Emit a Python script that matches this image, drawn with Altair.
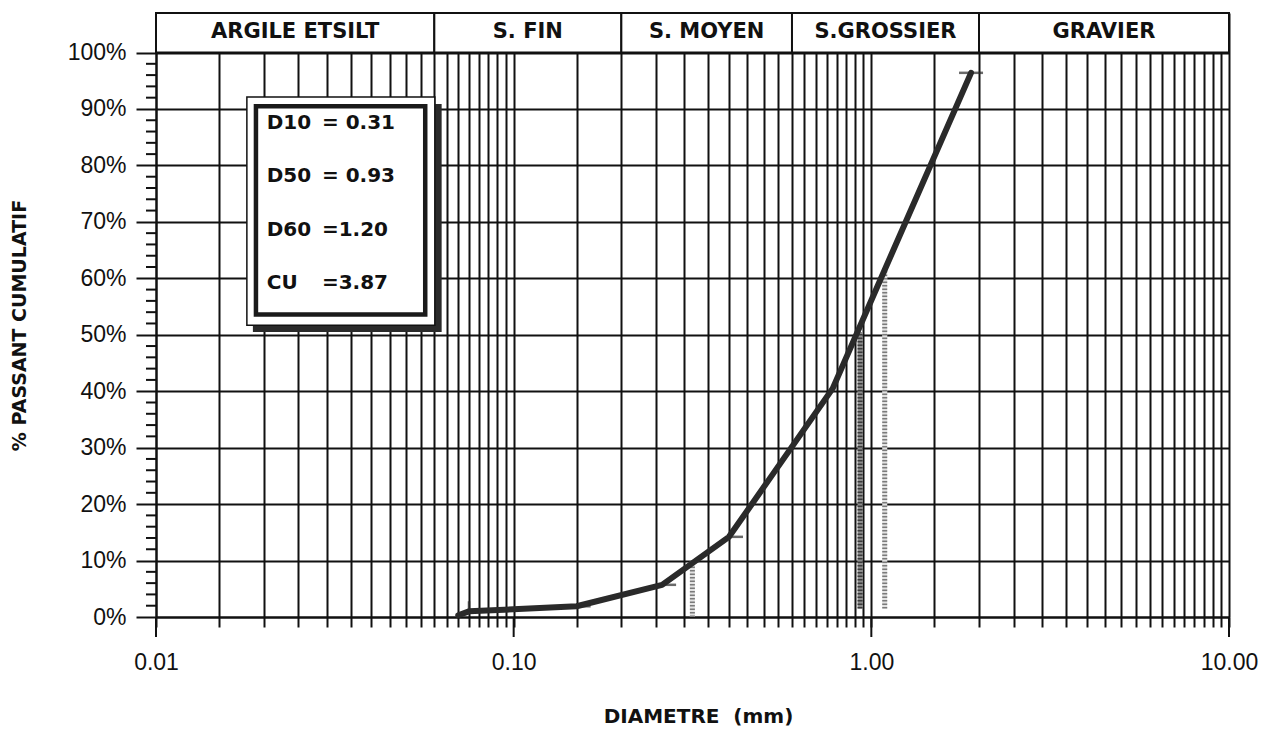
import altair as alt
import pandas as pd

# ---------------- data ----------------
diam_mm = [0.07, 0.075, 0.15, 0.26, 0.40, 0.78, 1.90]
pct_passing = [0.3, 1.0, 1.9, 5.7, 14.2, 40.5, 96.4]

mark_diam = [0.15, 0.26, 0.40]
mark_pct = [1.9, 5.7, 14.2]
top_mark_diam = [1.90]
top_mark_pct = [96.4]
start_mark_diam = [0.075]
start_mark_pct = [1.9]

d_names = ["D10", "D50", "D60"]
d_diam = [0.316, 0.93, 1.09]
d_from = [0.0, 1.5, 1.5]
d_to = [10.0, 50.5, 61.8]

stat_names = ["D10", "D50", "D60", "CU"]
stat_values = ["= 0.31", "= 0.93", "=1.20", "=3.87"]

class_names = ["ARGILE ETSILT", "S. FIN", "S. MOYEN", "S.GROSSIER", "GRAVIER"]
class_lo = [0.01, 0.06, 0.2, 0.6, 2.0]
class_hi = [0.06, 0.2, 0.6, 2.0, 10.0]

grid_multipliers = [1, 1.5, 2, 2.5, 3, 3.5, 4, 4.5, 5, 5.5, 6, 6.5, 7, 7.5, 8, 8.5, 9, 9.5]
grid_decades = [0.01, 0.1, 1.0]
label_decades = [0.01, 0.1, 1.0, 10.0]
y_major = [0, 10, 20, 30, 40, 50, 60, 70, 80, 90, 100]
y_minor = [v for v in range(2, 100, 2) if v % 10 != 0]

# ---------------- annotation layout (data units) ----------------
BAND_BOTTOM, BAND_TOP = 100, 107
BAND_TEXT_Y = 103.6
box_rows_y = [87.5, 78.1, 68.6, 59.2]
box_label_x = 0.0204
box_value_x = 0.0291
box_parts = {
    "shadow": (0.01866, 0.0629, 50.5, 90.9),
    "outer": (0.01795, 0.0602, 51.7, 92.1),
    "inner": (0.01903, 0.05659, 53.6, 90.5),
}

x_grid = sorted(round(m * d, 6) for d in grid_decades for m in grid_multipliers) + [10.0]

# ---------------- tables ----------------
curve_df = pd.DataFrame({"d": diam_mm, "p": pct_passing})
marks_df = pd.DataFrame({"d": mark_diam, "p": mark_pct})
top_df = pd.DataFrame({"d": top_mark_diam, "p": top_mark_pct})
start_df = pd.DataFrame({"d": start_mark_diam, "p": start_mark_pct})
dlines_df = pd.DataFrame({"name": d_names, "d": d_diam, "p0": d_from, "p1": d_to})
band_df = pd.DataFrame({
    "name": class_names, "lo": class_lo, "hi": class_hi,
    "mid": [(a * b) ** 0.5 for a, b in zip(class_lo, class_hi)],
    "yb": [BAND_BOTTOM] * 5, "yt": [BAND_TOP] * 5, "ty": [BAND_TEXT_Y] * 5,
})
stats_df = pd.DataFrame({
    "label": stat_names, "value": stat_values, "y": box_rows_y,
    "lx": [box_label_x] * 4, "vx": [box_value_x] * 4,
})
box_df = pd.DataFrame([
    {"part": k, "x": v[0], "x2": v[1], "y": v[2], "y2": v[3]} for k, v in box_parts.items()
])
yminor_df = pd.DataFrame({"v": y_minor})
xmajor_df = pd.DataFrame({"v": label_decades})

# ---------------- scales & axes ----------------
INK = "#111111"
xs = alt.Scale(type="log", domain=[0.01, 10], nice=False)
ys = alt.Scale(domain=[0, BAND_TOP], nice=False, zero=False)

xax = alt.Axis(
    values=x_grid, grid=True, gridColor=INK, gridWidth=2, gridOpacity=1,
    domain=True, domainColor=INK, domainWidth=2,
    ticks=True, tickColor=INK, tickWidth=2, tickSize=10,
    labelExpr="abs(log(datum.value)/LN10 - round(log(datum.value)/LN10)) < 0.000001 ? format(datum.value, '.2f') : ''",
    labelFont="Liberation Sans", labelFontSize=23, labelColor=INK, labelPadding=24,
    labelFlush=False, labelOverlap=False, labelAngle=0,
    title="DIAMETRE \u00a0(mm)", titleFont="DejaVu Sans", titleFontSize=20,
    titleFontWeight="bold", titleColor=INK, titleX=542, titleY=99,
    titleAlign="center", titleBaseline="middle", zindex=0,
)
yax = alt.Axis(
    values=y_major, grid=True, gridColor=INK, gridWidth=2, gridOpacity=1,
    domain=True, domainColor=INK, domainWidth=2,
    ticks=True, tickColor=INK, tickWidth=2, tickSize=20,
    labelExpr="datum.value + '%'",
    labelFont="Liberation Sans", labelFontSize=23, labelColor=INK, labelPadding=10,
    labelOverlap=False,
    title="% PASSANT CUMULATIF", titleFont="DejaVu Sans", titleFontSize=19,
    titleFontWeight="bold", titleColor=INK, titleAngle=270, titleX=-137, titleY=312,
    titleAlign="center", titleBaseline="middle", zindex=0,
)


def X(f):
    return alt.X(f, type="quantitative", scale=xs, axis=xax)


def Y(f):
    return alt.Y(f, type="quantitative", scale=ys, axis=yax)


band_rects = alt.Chart(band_df).mark_rect(fill="white", stroke=INK, strokeWidth=2).encode(
    x=X("lo"), x2="hi", y=Y("yb"), y2="yt")
band_text = alt.Chart(band_df).mark_text(
    font="DejaVu Sans", fontWeight="bold", fontSize=21, color=INK, baseline="middle", align="center"
).encode(x=X("mid"), y=Y("ty"), text="name")

shadow = alt.Chart(box_df).transform_filter(alt.datum.part == "shadow").mark_rect(
    fill="#2a2a2a").encode(x=X("x"), x2="x2", y=Y("y"), y2="y2")
outer = alt.Chart(box_df).transform_filter(alt.datum.part == "outer").mark_rect(
    fill="white", stroke=INK, strokeWidth=1.5).encode(x=X("x"), x2="x2", y=Y("y"), y2="y2")
inner = alt.Chart(box_df).transform_filter(alt.datum.part == "inner").mark_rect(
    filled=False, stroke="#1a1a1a", strokeWidth=4.5).encode(x=X("x"), x2="x2", y=Y("y"), y2="y2")
stat_labels = alt.Chart(stats_df).mark_text(
    font="DejaVu Sans", fontWeight="bold", fontSize=20, color=INK, align="left", baseline="middle"
).encode(x=X("lx"), y=Y("y"), text="label")
stat_vals = alt.Chart(stats_df).mark_text(
    font="DejaVu Sans", fontWeight="bold", fontSize=20, color=INK, align="left", baseline="middle"
).encode(x=X("vx"), y=Y("y"), text="value")

# stippled dotted guide lines: light base + dark dots
dlines_base = alt.Chart(dlines_df).mark_rule(strokeWidth=5).encode(
    x=X("d"), y=Y("p0"), y2="p1",
    color=alt.condition(alt.datum.name == "D50", alt.value("#8c8c8c"), alt.value("#e2e2e2")),
)
dlines_dots = alt.Chart(dlines_df).mark_rule(strokeWidth=5, strokeDash=[1.5, 2]).encode(
    x=X("d"), y=Y("p0"), y2="p1",
    color=alt.condition(alt.datum.name == "D50", alt.value("#3a3a3a"), alt.value("#7a7a7a")),
)

curve = alt.Chart(curve_df).mark_line(
    color="#2a2a2a", strokeWidth=6, strokeJoin="round", strokeCap="round"
).encode(x=X("d"), y=Y("p"))

marks_right = alt.Chart(marks_df).mark_tick(
    orient="horizontal", size=14, thickness=2.5, color="#2a2a2a", xOffset=7
).encode(x=X("d"), y=Y("p"))
marks_top = alt.Chart(top_df).mark_tick(
    orient="horizontal", size=24, thickness=2.5, color="#2a2a2a"
).encode(x=X("d"), y=Y("p"))
marks_start = alt.Chart(start_df).mark_tick(
    orient="vertical", size=10, thickness=2.5, color="#2a2a2a"
).encode(x=X("d"), y=Y("p"))

y_minor_ticks = alt.Chart(yminor_df).mark_rule(color=INK, strokeWidth=2).encode(
    y=Y("v"), x=alt.value(-10), x2=alt.value(0))
x_major_ticks = alt.Chart(xmajor_df).mark_rule(color=INK, strokeWidth=2).encode(
    x=X("v"), y=alt.value(604), y2=alt.value(624))

chart = alt.layer(
    band_rects, band_text, shadow, outer, inner, stat_labels, stat_vals,
    dlines_base, dlines_dots, curve, marks_right, marks_top, marks_start,
    y_minor_ticks, x_major_ticks,
).properties(
    width=1073, height=604,
    autosize=alt.AutoSizeParams(type="none"),
    padding={"left": 148, "top": 5, "right": 34, "bottom": 110},
    background="white",
).configure_view(strokeWidth=0)

chart.save("out.html", embed_options={"renderer": "svg", "actions": False})
